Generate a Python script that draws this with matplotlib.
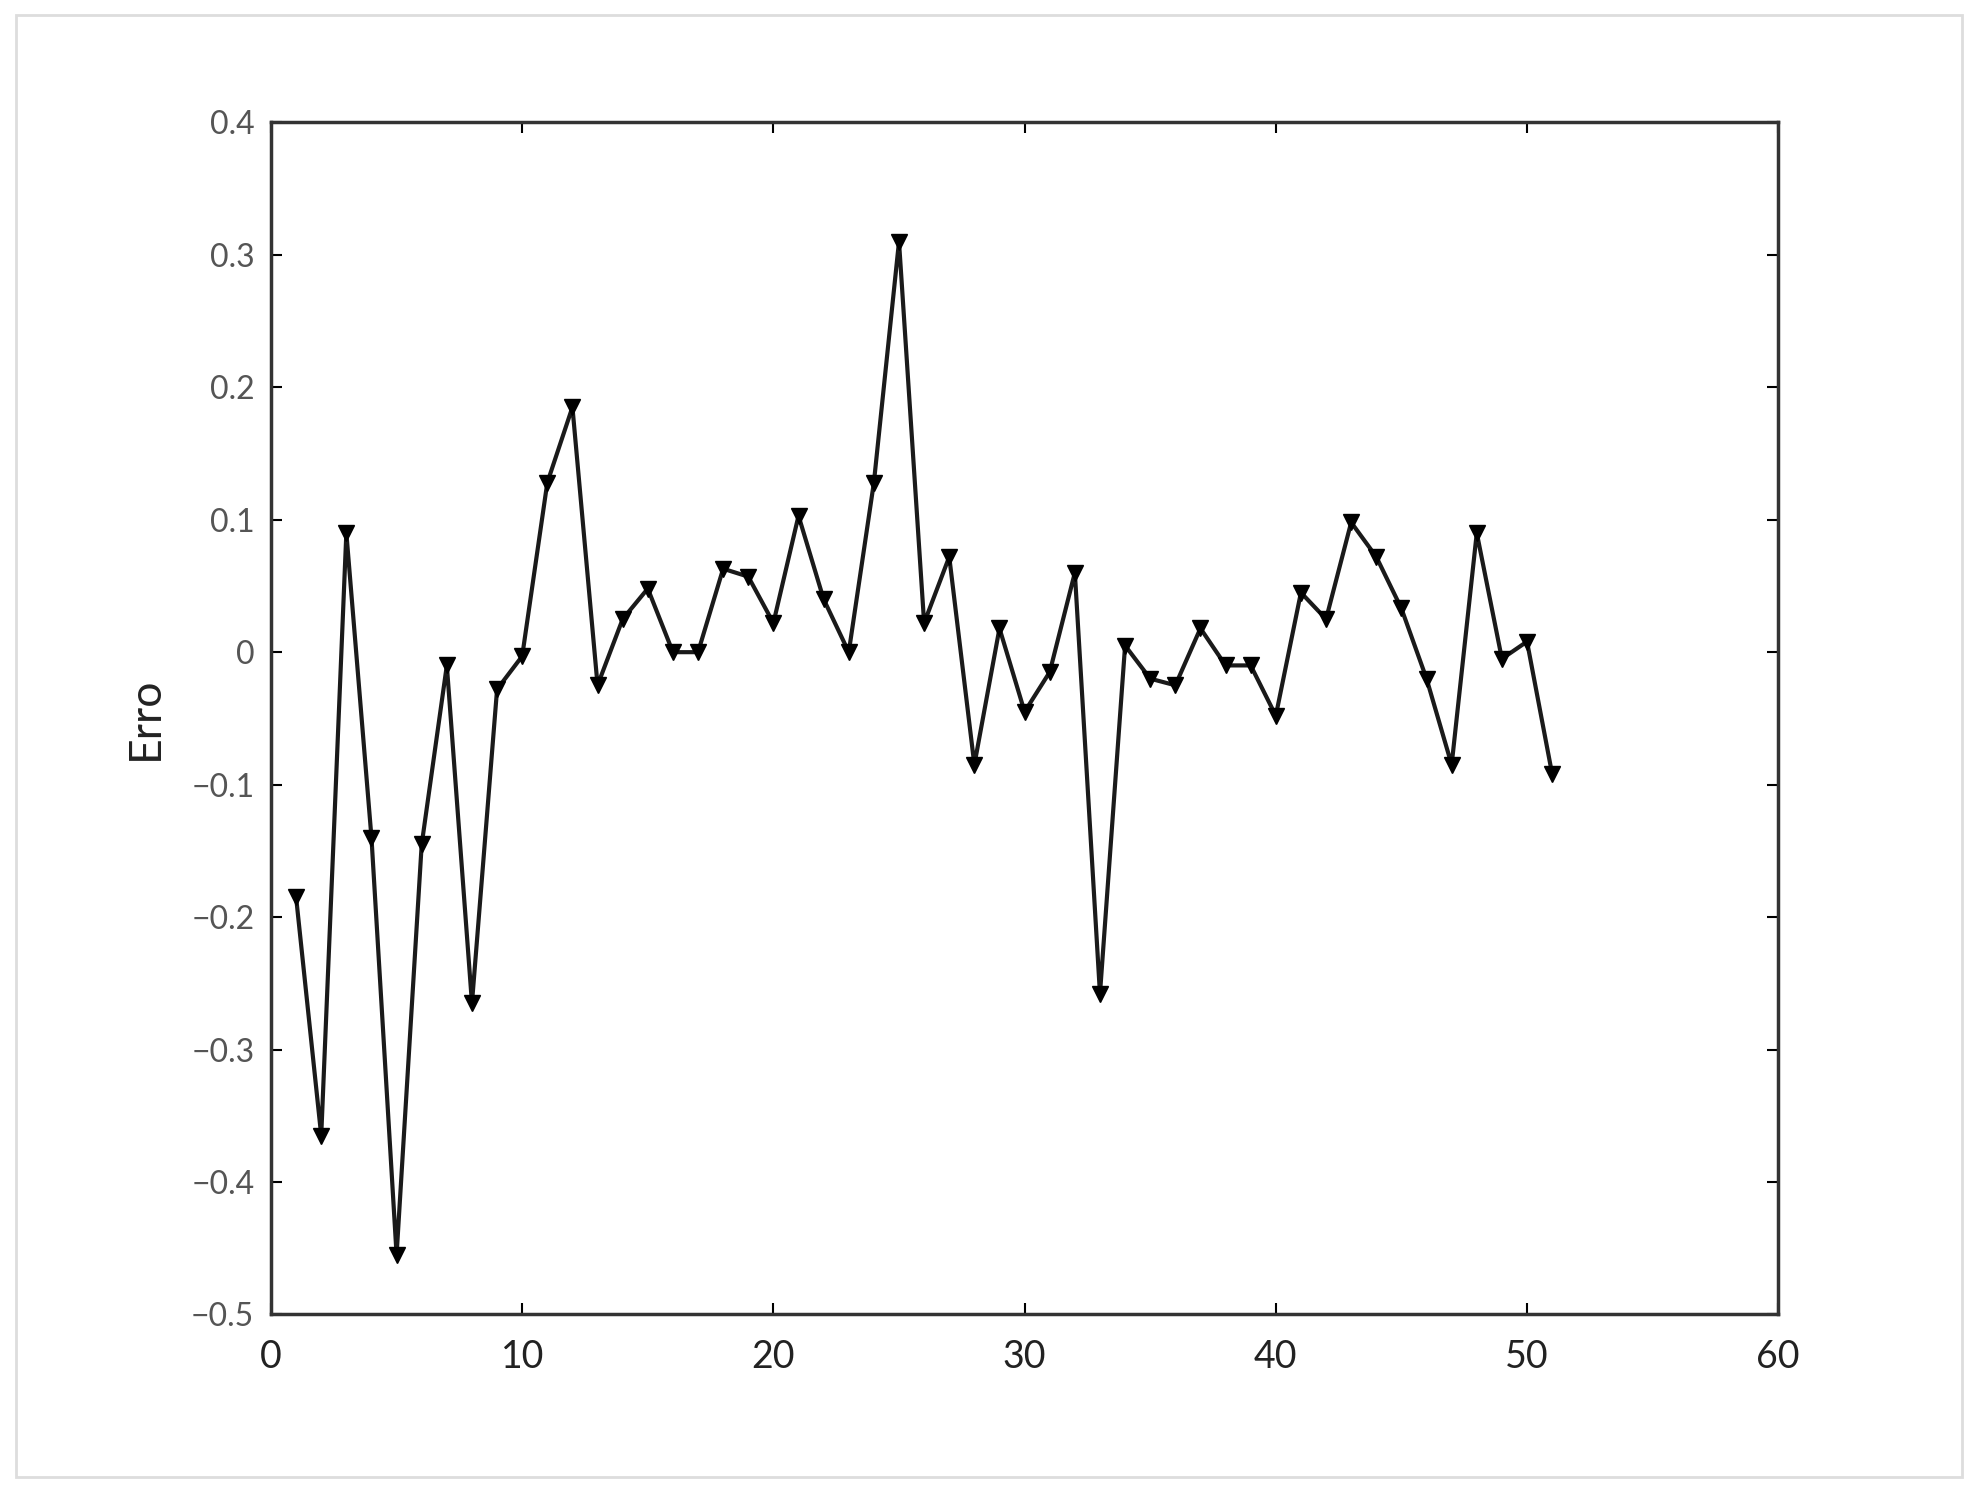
import matplotlib
matplotlib.use("Agg")
import matplotlib.pyplot as plt
from matplotlib.patches import Rectangle

x = list(range(1, 52))
erro = [-0.185, -0.365, 0.090, -0.140, -0.455, -0.145, -0.010, -0.265, -0.028, -0.003,
        0.128, 0.185, -0.025, 0.025, 0.048, 0.000, 0.000, 0.063, 0.057, 0.022,
        0.103, 0.040, 0.000, 0.128, 0.310, 0.022, 0.072, -0.085, 0.018, -0.045,
        -0.015, 0.060, -0.258, 0.005, -0.020, -0.025, 0.018, -0.010, -0.010, -0.048,
        0.045, 0.025, 0.098, 0.072, 0.033, -0.020, -0.085, 0.090, -0.005, 0.008,
        -0.092]

xticks = [0, 10, 20, 30, 40, 50, 60]
yticks = [-0.5, -0.4, -0.3, -0.2, -0.1, 0, 0.1, 0.2, 0.3, 0.4]
ytick_labels = ["\u22120.5", "\u22120.4", "\u22120.3", "\u22120.2", "\u22120.1", "0", "0.1", "0.2", "0.3", "0.4"]

plt.rcParams['font.family'] = ['Lato', 'DejaVu Sans']
fig = plt.figure(figsize=(19.78, 14.92), dpi=100)
fig.patches.append(Rectangle((0.008, 0.01), 0.984, 0.98, transform=fig.transFigure,
                             fill=False, edgecolor='#dddddd', linewidth=2))
ax = fig.add_axes([0.137, 0.119, 0.762, 0.799])
ax.plot(x, erro, color='#1a1a1a', linewidth=3, marker='v', markersize=12,
        markerfacecolor='black', markeredgecolor='black')
ax.set_xlim(0, 60)
ax.set_ylim(-0.5, 0.4)
ax.set_xticks(xticks)
ax.set_xticklabels([str(t) for t in xticks], fontsize=27, color='#222222')
ax.set_yticks(yticks)
ax.set_yticklabels(ytick_labels, fontsize=23, color='#555555')
ax.tick_params(direction='in', length=8, width=1.5, top=True, right=True, pad=12)
ax.tick_params(axis='x', pad=18)
for s in ax.spines.values():
    s.set_linewidth(2.5)
    s.set_color('#333333')
ax.set_ylabel('Erro', fontsize=32, color='#222222', labelpad=18)
fig.savefig('out.png', dpi=100, facecolor='white')
